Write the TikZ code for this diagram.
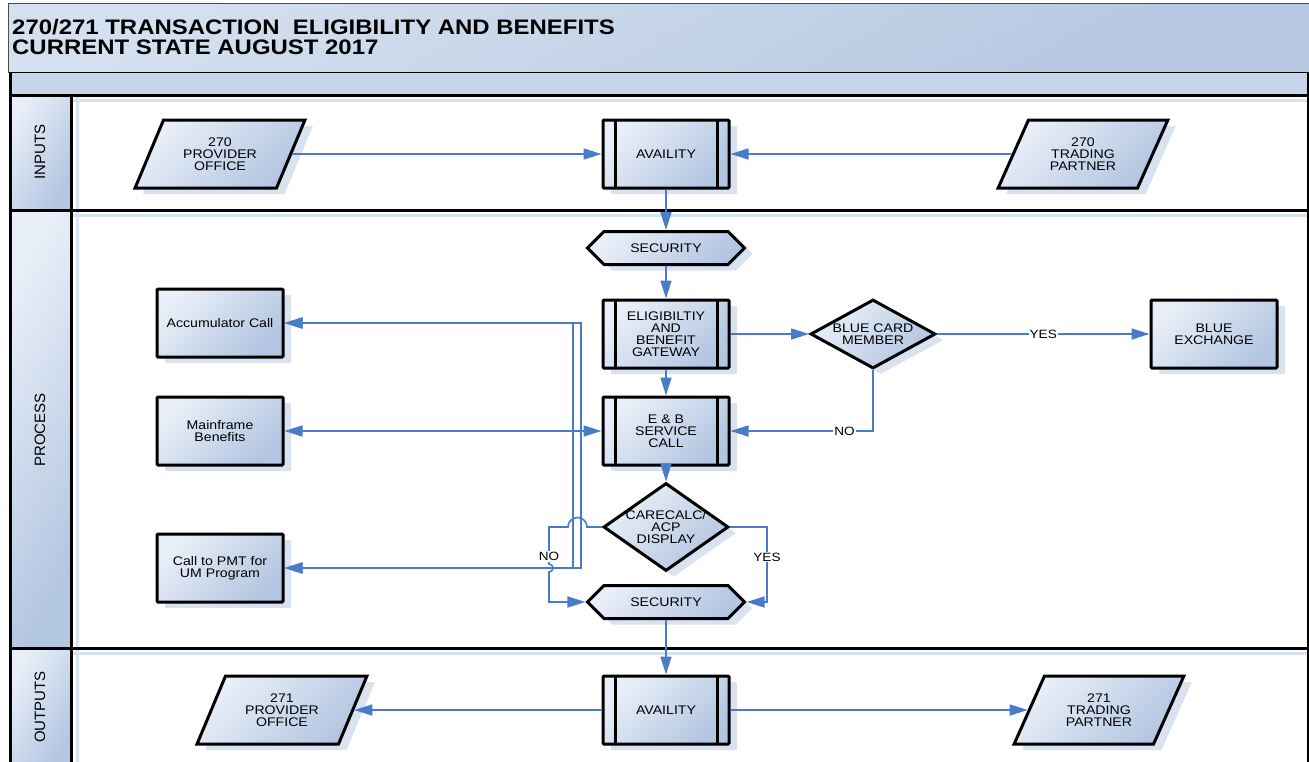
\documentclass[tikz,border=0pt]{standalone}
\usepackage{fontspec}
\setmainfont{Liberation Sans}
\newfontfamily\stretchsans[FakeStretch=1.13]{Liberation Sans}
\newfontfamily\titlesans[FakeStretch=1.14]{Liberation Sans}
\usetikzlibrary{shapes.geometric,shapes.symbols,shadows,arrows.meta,calc}

\definecolor{boxlight}{HTML}{E9EFF8}
\definecolor{boxdark}{HTML}{B2C5E1}
\definecolor{flowblue}{HTML}{4A7BC6}
\definecolor{shadowblue}{HTML}{D8E2F1}
\definecolor{titlelight}{HTML}{D4E0EF}
\definecolor{titledark}{HTML}{B5C7E1}
\definecolor{headblue}{HTML}{C6D5EA}

\newcommand{\boxfont}{\stretchsans\fontsize{12.5}{12}\selectfont}
\newcommand{\lblfont}{\stretchsans\fontsize{12}{12}\selectfont}
\newcommand{\titlefont}{\titlesans\bfseries\fontsize{21}{20}\selectfont}

\tikzset{
  shadedfill/.style={top color=boxlight, bottom color=boxdark, shading angle=45},
  box/.style={shadedfill, draw=black, line width=3pt, rounded corners=1pt,
    minimum width=126pt, minimum height=68pt, inner sep=2pt, align=center, font=\boxfont,
    drop shadow={shadow xshift=8pt, shadow yshift=-6pt, fill=shadowblue, opacity=1}},
  predef/.style={box, path picture={
      \draw[line width=3pt] ([xshift=12pt]path picture bounding box.north west) -- ([xshift=12pt]path picture bounding box.south west);
      \draw[line width=3pt] ([xshift=-12pt]path picture bounding box.north east) -- ([xshift=-12pt]path picture bounding box.south east);}},
  iobox/.style={box, rounded corners=0pt, trapezium, trapezium left angle=62, trapezium right angle=118,
    trapezium stretches=true, minimum width=170pt, minimum height=68pt},
  hexbox/.style={box, rounded corners=0pt, signal, signal to=east and west, signal pointer angle=90,
    minimum width=157pt, minimum height=33pt, inner sep=1pt},
  decision/.style={box, rounded corners=0pt, diamond, aspect=1.8, minimum width=125pt, minimum height=69pt, inner sep=0pt},
  flow/.style={draw=flowblue, line width=1.6pt, -{Triangle[length=18pt,width=11pt]}},
  biflow/.style={flow, {Triangle[length=18pt,width=11pt]}-{Triangle[length=18pt,width=11pt]}},
  lbl/.style={fill=white, inner sep=1pt, font=\lblfont},
  lane/.style={line width=3pt},
  laneshadow/.style={draw=shadowblue, line width=3pt},
  lanename/.style={rotate=90, font=\fontsize{15}{15}\selectfont}
}

\begin{document}
\begin{tikzpicture}[x=1pt, y=-1pt]
  \useasboundingbox (0,0) rectangle (1309,761);

  % Title
  \draw[draw=gray!60!black, line width=1pt, top color=titlelight, bottom color=titledark, shading angle=30] (8,3) rectangle (1312,72);
  \node[anchor=base west, align=left, inner sep=0pt, font=\titlefont] (title) at (12,54)
    {270/271 TRANSACTION\ \ ELIGIBILITY AND BENEFITS\\CURRENT STATE AUGUST 2017};
  \draw[line width=1pt, fill=headblue] (9,72) rectangle (1308,95);

  % Lanes
  \fill[white] (10,95) rectangle (1308,770);
  \draw[laneshadow] (16,100) -- (1308,100);
  \draw[laneshadow] (16,215) -- (1308,215);
  \draw[laneshadow] (16,653) -- (1308,653);
  \draw[laneshadow] (77,95) -- (77,770);
  \foreach \top/\bot in {95/210, 210/648, 648/770}
  {
    \draw[lane, top color=boxlight, bottom color=boxdark, shading angle=60] (10,\top) rectangle (71,\bot);
  }
  \draw[lane] (10,72) -- (10,770);
  \draw[lane] (1308,72) -- (1308,770);
  \draw[lane] (10,95) -- (1308,95);
  \draw[lane] (10,210) -- (1308,210);
  \draw[lane] (10,648) -- (1308,648);
  \node[lanename] (inputs) at (40,152) {INPUTS};
  \node[lanename] (process) at (40,430) {PROCESS};
  \node[lanename] (outputs) at (40,707) {OUTPUTS};

  % Inputs
  \node[iobox] (provin) at (220,154) {270\\PROVIDER\\OFFICE};
  \node[predef] (availin) at (666,154) {AVAILITY};
  \node[iobox] (tradein) at (1083,154) {270\\TRADING\\PARTNER};

  % Process
  \node[hexbox] (secin) at (666,248) {SECURITY};
  \node[predef] (gate) at (666,334) {ELIGIBILTIY\\AND\\BENEFIT\\GATEWAY};
  \node[decision] (bluecard) at (873,334) {BLUE CARD\\MEMBER};
  \node[box] (bluex) at (1214,334) {BLUE\\EXCHANGE};
  \node[box] (accum) at (220,323) {Accumulator Call};
  \node[box] (mainf) at (220,431) {Mainframe\\Benefits};
  \node[predef] (ebcall) at (666,431) {E \& B\\SERVICE\\CALL};
  \node[decision, aspect=1.42, minimum height=88pt, inner sep=-5pt] (care) at (666,527) {CARECALC/\\ACP\\DISPLAY};
  \node[box] (pmt) at (220,568) {Call to PMT for\\UM Program};
  \node[hexbox] (secout) at (666,602) {SECURITY};

  % Outputs
  \node[predef] (availout) at (666,710) {AVAILITY};
  \node[iobox] (provout) at (282,710) {271\\PROVIDER\\OFFICE};
  \node[iobox] (tradeout) at (1099,710) {271\\TRADING\\PARTNER};

  % Connectors
  \draw[flow] (provin) -- (availin);
  \draw[flow] (tradein) -- (availin);
  \draw[flow] (availin) -- (secin);
  \draw[flow] (secin) -- (gate);
  \draw[flow] (gate) -- (bluecard);
  \draw[flow] (bluecard) -- node[lbl] {YES} (bluex);
  \draw[flow] (bluecard.south) |- node[lbl, pos=0.6] {NO} (ebcall.east);
  \draw[flow] (gate) -- (ebcall);
  \draw[biflow] (mainf) -- (ebcall);
  \draw[flow] (ebcall) -- (care);
  \draw[biflow] (accum.east) -| (573,568) -- (pmt.east);
  \draw[biflow] (accum.east) -| (581,568) -- (pmt.east);
  \draw[flow] (care.west) -- (587,527) arc[start angle=0, end angle=180, radius=9.5pt] -- (549,527)
    -- node[lbl, pos=0.8] {NO} (549,564) arc[start angle=90, end angle=-90, radius=4pt] -- (549,602) -- (secout.west);
  \draw[flow] (care.east) -| node[lbl, pos=0.7] {YES} (767,602) -- (secout.east);
  \draw[flow] (secout) -- (availout);
  \draw[flow] (availout) -- (provout);
  \draw[flow] (availout) -- (tradeout);
\end{tikzpicture}
\end{document}
